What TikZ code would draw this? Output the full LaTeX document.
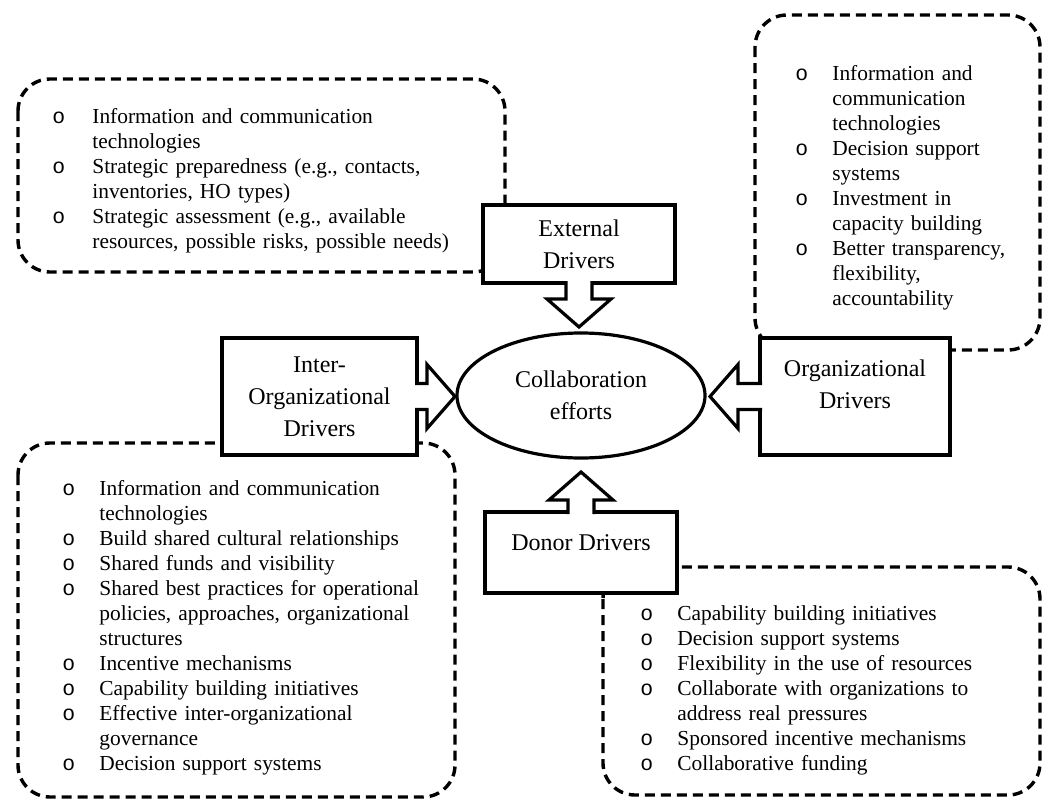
\documentclass[tikz,border=0pt]{standalone}
\usepackage{fontspec}
\setmainfont{Liberation Serif}
\newfontfamily\bulletfont{Liberation Mono}
\usetikzlibrary{shapes.geometric}
\newlength{\olm}
\setlength{\olm}{18.5pt}
% one bullet item, later lines hang under the text
\newcommand{\ob}[1]{\par\hangindent=\olm\hangafter=1\noindent\makebox[\olm][l]{\bulletfont o}#1}
% fat arrow: start point, direction, length
\newcommand{\blockarrow}[3]{%
  \fill[white,shift={#1},rotate=#2] (-2.5,-13) -- (#3-28,-13) -- (#3-28,-32) -- (#3,0) -- (#3-28,32) -- (#3-28,13) -- (-2.5,13) -- cycle;
  \draw[fatline,shift={#1},rotate=#2] (-2,-13) -- (#3-28,-13) -- (#3-28,-32) -- (#3,0) -- (#3-28,32) -- (#3-28,13) -- (-2,13);}
\begin{document}
\begin{tikzpicture}[x=0.5pt,y=-0.5pt,line join=miter,
  dashbox/.style={line width=1.7pt,dash pattern=on 5pt off 3pt,rounded corners=16pt},
  driver/.style={draw,line width=2pt,fill=white,outer sep=0pt,align=center,font=\fontsize{12}{16}\selectfont},
  fatline/.style={line width=1.6pt},
  itemlist/.style={anchor=base west,inner sep=0pt,align=left,font=\fontsize{10.7}{12.5}\selectfont}]
\useasboundingbox (0,0) rectangle (1043,803);
% dashed groups of factors
\draw[dashbox] (18,79) rectangle (505,272);
\draw[dashbox] (755,15) rectangle (1040,350);
\draw[dashbox] (18,443) rectangle (455,797);
\draw[dashbox] (603,567) rectangle (1040,795);
% drivers and the centre
\node[driver,minimum width=96pt,minimum height=39pt] (ext) at (579,244) {External\\Drivers};
\node[driver,minimum width=97.5pt,minimum height=58.5pt] (inter) at (319.5,396.5) {Inter-\\Organizational\\Drivers};
\node[driver,minimum width=95pt,minimum height=58.5pt,text depth=12.5pt] (org) at (855,396.5) {Organizational\\Drivers};
\node[driver,minimum width=96pt,minimum height=40.5pt,text depth=10pt] (donor) at (581,552.5) {Donor Drivers};
\node[driver,ellipse,line width=1.6pt,inner sep=0pt,minimum width=124pt,minimum height=62.5pt] (collab) at (581,395.5) {Collaboration\\efforts};
\blockarrow{(ext.south)}{-90}{44}
\blockarrow{(inter.east)}{0}{38}
\blockarrow{(org.west)}{180}{50}
\blockarrow{(donor.north)}{90}{40}
% lists
\setlength{\olm}{20pt}
\node[itemlist,text width=230pt] (extlist) at (52,98) {%
\ob{Information and communication\newline technologies}
\ob{Strategic preparedness (e.g., contacts,\newline inventories, HO types)}
\ob{Strategic assessment (e.g., available\newline resources, possible risks, possible needs)}\par};
\setlength{\olm}{18.5pt}
\node[itemlist,text width=120pt] (orglist) at (795,55) {%
\ob{Information and\newline communication\newline technologies}
\ob{Decision support\newline systems}
\ob{Investment in\newline capacity building}
\ob{Better transparency,\newline flexibility,\newline accountability}\par};
\node[itemlist,text width=200pt] (interlist) at (62,470) {%
\ob{Information and communication\newline technologies}
\ob{Build shared cultural relationships}
\ob{Shared funds and visibility}
\ob{Shared best practices for operational\newline policies, approaches, organizational\newline structures}
\ob{Incentive mechanisms}
\ob{Capability building initiatives}
\ob{Effective inter-organizational\newline governance}
\ob{Decision support systems}\par};
\node[itemlist,text width=190pt] (donorlist) at (640,595) {%
\ob{Capability building initiatives}
\ob{Decision support systems}
\ob{Flexibility in the use of resources}
\ob{Collaborate with organizations to\newline address real pressures}
\ob{Sponsored incentive mechanisms}
\ob{Collaborative funding}\par};
\end{tikzpicture}
\end{document}
